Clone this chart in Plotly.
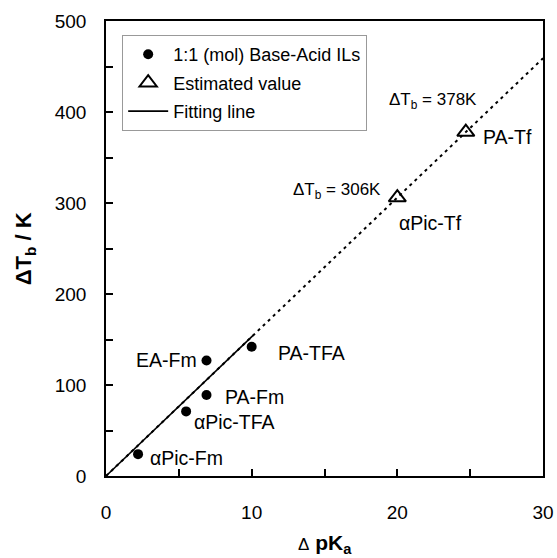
import plotly.graph_objects as go

# Base-acid ionic liquids: delta pKa vs boiling-point elevation
il_names = ["EA-Fm", "PA-Fm", "αPic-TFA", "αPic-Fm", "PA-TFA"]
il_dpka = [6.9, 6.9, 5.5, 2.2, 10.0]
il_dtb = [127, 89, 71, 24, 142]

# Values estimated from the fitted line
est_names = ["αPic-Tf", "PA-Tf"]
est_dpka = [20.0, 24.7]
est_dtb = [306, 378]

# Linear fit through the origin (K per pKa unit)
fit_slope = 15.3
fit_solid_x = [0, 10.1]
fit_dotted_x = [0, 30]

x_title = "<span style='font-size:17px'>Δ</span> <b>pK<sub>a</sub></b>"
y_title = "<b>ΔT<sub>b</sub> / K</b>"

FONT = "Arial, Liberation Sans, sans-serif"

fig = go.Figure()

fig.add_trace(go.Scatter(
    x=fit_dotted_x, y=[fit_slope * v for v in fit_dotted_x],
    mode="lines", line=dict(color="black", width=2, dash="3px,4px"),
    showlegend=False, hoverinfo="skip"))

fig.add_trace(go.Scatter(
    x=il_dpka, y=il_dtb, mode="markers", name="1:1 (mol) Base-Acid ILs",
    marker=dict(symbol="circle", size=10, color="black"), legendgroup="a"))

fig.add_trace(go.Scatter(
    x=est_dpka, y=est_dtb, mode="markers", name="Estimated value",
    marker=dict(symbol="triangle-up-open", size=15, color="black",
                line=dict(width=2, color="black")), legendgroup="b"))

fig.add_trace(go.Scatter(
    x=fit_solid_x, y=[fit_slope * v for v in fit_solid_x],
    mode="lines", name="Fitting line",
    line=dict(color="black", width=1.6), legendgroup="c"))

# Point labels: (xshift, yshift, xanchor)
label_offsets = {
    "EA-Fm": (-8, 0, "right"),
    "PA-Fm": (16, -2, "left"),
    "αPic-TFA": (6, -11, "left"),
    "αPic-Fm": (10, -4, "left"),
    "PA-TFA": (24, -6, "left"),
    "αPic-Tf": (0, -25, "left"),
    "PA-Tf": (15, -5, "left"),
}
for name, xv, yv in zip(il_names + est_names, il_dpka + est_dpka, il_dtb + est_dtb):
    dx, dy, anchor = label_offsets[name]
    fig.add_annotation(x=xv, y=yv, text=name, showarrow=False,
                       xanchor=anchor, yanchor="middle", xshift=dx, yshift=dy,
                       font=dict(family=FONT, size=19.5, color="black"))

# Estimated boiling-point elevations
value_offsets = [(-14, 7), (13, 31)]
for xv, yv, (dx, dy) in zip(est_dpka, est_dtb, value_offsets):
    fig.add_annotation(x=xv, y=yv, text=f"ΔT<sub>b</sub> = {yv}K", showarrow=False,
                       xanchor="right", yanchor="middle", xshift=dx, yshift=dy,
                       font=dict(family=FONT, size=17, color="black"))

# Axis titles
fig.add_annotation(x=0.5, y=-0.150, xref="paper", yref="paper", text=x_title,
                   showarrow=False, xanchor="center", yanchor="middle",
                   font=dict(family=FONT, size=21, color="black"))
fig.add_annotation(x=-0.186, y=0.5, xref="paper", yref="paper", text=y_title,
                   showarrow=False, xanchor="center", yanchor="middle", textangle=-90,
                   font=dict(family=FONT, size=22, color="black"))

fig.update_layout(
    width=557, height=558,
    margin=dict(l=106, r=14, t=21, b=82),
    paper_bgcolor="white", plot_bgcolor="white",
    font=dict(family=FONT, size=19, color="black"),
    legend=dict(x=0.037, y=0.969, xanchor="left", yanchor="top",
                bordercolor="#999999", borderwidth=1, bgcolor="white",
                font=dict(family=FONT, size=18), tracegroupgap=2,
                traceorder="grouped", itemwidth=40),
    showlegend=True,
)

fig.update_xaxes(
    range=[0, 30], tickvals=[0, 10, 20, 30], ticks="inside", ticklen=7,
    tickwidth=1.5, tickcolor="black",
    minor=dict(ticks="inside", ticklen=7, tickvals=[5, 15, 25], tickcolor="black", tickwidth=1.5),
    showline=True, linecolor="black", linewidth=1.5, mirror=True,
    showgrid=False, zeroline=False, ticklabelstandoff=18, automargin=False)

fig.update_yaxes(
    range=[0, 500], tickvals=[0, 100, 200, 300, 400, 500], ticks="inside", ticklen=7,
    tickwidth=1.5, tickcolor="black",
    minor=dict(ticks="inside", ticklen=7, tickvals=[50, 150, 250, 350, 450], tickcolor="black", tickwidth=1.5),
    showline=True, linecolor="black", linewidth=1.5, mirror=True,
    showgrid=False, zeroline=False, ticklabelstandoff=14, automargin=False)

fig.write_html("out.html", post_script="document.body.style.margin='0';")
